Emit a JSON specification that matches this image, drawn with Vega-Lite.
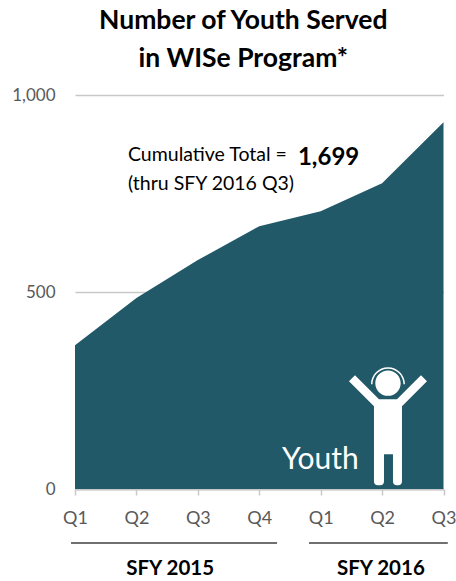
{
"$schema":"https://vega.github.io/schema/vega-lite/v6.json",
"width":368.5,"height":394,
"autosize":{"type":"none"},
"padding":{"left":75,"top":95,"right":12.5,"bottom":92},
"background":"white",
"config":{"view":{"stroke":null},"font":"Lato"},
"title":{"text":["Number of Youth Served","in WISe Program*"],"font":"Lato","fontSize":26.5,"fontWeight":"bold","color":"#000000","anchor":"middle","dx":-16,"lineHeight":38,"offset":-7,"baseline":"alphabetic"},
"layer":[
{"data":{"values":[
{"q":0,"period":"SFY 2015 Q1","youth":365},
{"q":1,"period":"SFY 2015 Q2","youth":485},
{"q":2,"period":"SFY 2015 Q3","youth":581},
{"q":3,"period":"SFY 2015 Q4","youth":667},
{"q":4,"period":"SFY 2016 Q1","youth":705},
{"q":5,"period":"SFY 2016 Q2","youth":776},
{"q":6,"period":"SFY 2016 Q3","youth":931}]},
"mark":{"type":"area","color":"#225968","opacity":1},
"encoding":{
"x":{"field":"q","type":"quantitative","scale":{"domain":[0,6],"nice":false,"zero":false},
"axis":{"values":[0,1,2,3,4,5,6],"title":null,"grid":false,"labelExpr":"['Q1','Q2','Q3','Q4','Q1','Q2','Q3'][datum.value]","labelFont":"Lato","labelFontSize":18,"labelColor":"#595959","labelPadding":14,"labelFlush":false,"tickColor":"#c8c8c8","tickSize":6,"tickWidth":1.5,"domainColor":"#c8c8c8","domainWidth":2}},
"y":{"field":"youth","type":"quantitative","scale":{"domain":[0,1000],"nice":false},
"axis":{"values":[0,500,1000],"title":null,"labelExpr":"format(datum.value, ',')","grid":true,"gridColor":"#c8c8c8","gridWidth":1.5,"domain":false,"ticks":false,"labelFont":"Lato","labelFontSize":17,"labelColor":"#595959","labelPadding":20}}
}},
{"data":{"values":[{"from":-0.065,"to":3.29,"level":-137},{"from":3.81,"to":6.07,"level":-137}]},
"mark":{"type":"rule","color":"#404040","strokeWidth":1.5,"clip":false},
"encoding":{"x":{"field":"from","type":"quantitative"},"x2":{"field":"to"},"y":{"field":"level","type":"quantitative"}}},
{"data":{"values":[{"label":"SFY 2015","q":1.55,"v":-218},{"label":"SFY 2016","q":4.98,"v":-218}]},
"mark":{"type":"text","font":"Lato","fontSize":20.5,"fontWeight":"bold","color":"#000000","align":"center","baseline":"alphabetic","clip":false},
"encoding":{"x":{"field":"q","type":"quantitative"},"y":{"field":"v","type":"quantitative"},"text":{"field":"label"}}},
{"data":{"values":[{"label":"Cumulative Total =","q":0.863,"v":833},{"label":"(thru SFY 2016 Q3)","q":0.863,"v":760}]},
"mark":{"type":"text","font":"Lato","fontSize":19.5,"color":"#000000","align":"left","baseline":"alphabetic"},
"encoding":{"x":{"field":"q","type":"quantitative"},"y":{"field":"v","type":"quantitative"},"text":{"field":"label"}}},
{"data":{"values":[{"label":"1,699","q":3.63,"v":822}]},
"mark":{"type":"text","font":"Lato","fontSize":24,"fontWeight":"bold","color":"#000000","align":"left","baseline":"alphabetic"},
"encoding":{"x":{"field":"q","type":"quantitative"},"y":{"field":"v","type":"quantitative"},"text":{"field":"label"}}},
{"data":{"values":[{"label":"Youth","q":3.37,"v":51}]},
"mark":{"type":"text","font":"Lato","fontSize":30,"color":"#ffffff","align":"left","baseline":"alphabetic"},
"encoding":{"x":{"field":"q","type":"quantitative"},"y":{"field":"v","type":"quantitative"},"text":{"field":"label"}}},
{"data":{"values":[{"q":5.096,"v":162}]},
"mark":{"type":"point","filled":true,"color":"#ffffff","opacity":1,"size":4,
"shape":"M-33 -50L-9 -26L9 -26L33 -50L39 -44L14 -19L14 56Q14 60 10 60L9 60Q5 60 5 56L5 29L-4 29L-4 56Q-4 60 -8 60L-10 60Q-14 60 -14 56L-14 -19L-39 -44ZM-12.7 -42A12.7 12.7 0 1 1 12.7 -42A12.7 12.7 0 1 1 -12.7 -42ZM-17 -41A17 17 0 0 1 17 -41L15.5 -41A15.5 15.5 0 0 0 -15.5 -41Z"},
"encoding":{"x":{"field":"q","type":"quantitative"},"y":{"field":"v","type":"quantitative"}}}
]
}
